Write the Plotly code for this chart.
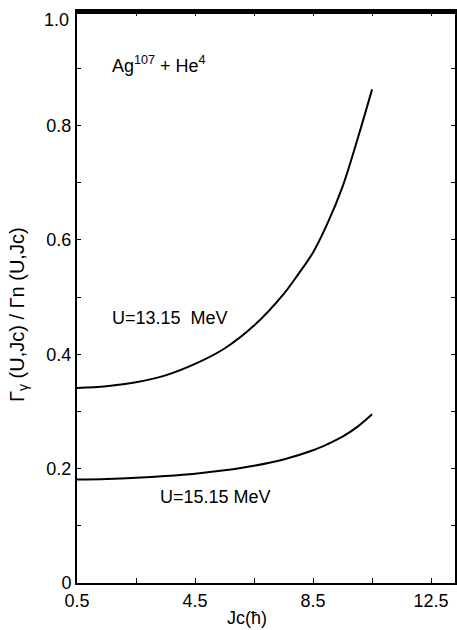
import plotly.graph_objects as go

jc = [0.5, 1.5, 2.5, 3.5, 4.5, 5.5, 6.5, 7.5, 8.0, 8.5, 9.0, 9.5, 10.0, 10.5]
ratio_13_15 = [0.341, 0.344, 0.351, 0.363, 0.383, 0.410, 0.450, 0.505, 0.540, 0.578, 0.630, 0.693, 0.775, 0.863]
jc_low = [0.5, 1.5, 2.5, 3.5, 4.5, 5.5, 6.5, 7.5, 8.5, 9.0, 9.5, 10.0, 10.5]
ratio_15_15 = [0.181, 0.182, 0.184, 0.187, 0.191, 0.197, 0.205, 0.216, 0.232, 0.243, 0.256, 0.273, 0.295]

x_ticks = [0.5, 4.5, 8.5, 12.5]
x_ticktext = ["0.5", "4.5", "8.5", "12.5"]
y_ticks = [0, 0.2, 0.4, 0.6, 0.8, 1.0]
y_ticktext = ["0", "0.2", "0.4", "0.6", "0.8", ""]
y_top_label = "1.0"

FONT = "Liberation Sans, Arial, sans-serif"
FS = 18

W, H = 457, 630
L, R, T, B = 77, 2, 11, 47
pw, ph = W - L - R, H - T - B

fig = go.Figure()
fig.add_trace(go.Scatter(x=jc, y=ratio_13_15, mode="lines", line=dict(color="black", width=2, shape="spline"), showlegend=False))
fig.add_trace(go.Scatter(x=jc_low, y=ratio_15_15, mode="lines", line=dict(color="black", width=2, shape="spline"), showlegend=False))

fig.update_layout(
    width=W, height=H,
    margin=dict(l=L, r=R, t=T, b=B, autoexpand=False),
    paper_bgcolor="white", plot_bgcolor="white",
    font=dict(family=FONT, size=FS, color="black"),
)
fig.update_xaxes(
    range=[0.5, 13.31], showgrid=False, zeroline=False, automargin=False,
    showline=True, linecolor="black", linewidth=2, mirror="ticks",
    tickvals=x_ticks, ticktext=x_ticktext, ticks="inside", ticklen=5, tickcolor="black",
    minor=dict(tick0=0.5, dtick=2, ticks="inside", ticklen=5, tickcolor="black"),
    tickfont=dict(size=FS), ticklabeloverflow="allow",
)
fig.update_yaxes(
    range=[0, 1.0], showgrid=False, zeroline=False, automargin=False,
    showline=True, linecolor="black", linewidth=2, mirror="ticks",
    tickvals=y_ticks, ticktext=y_ticktext, ticks="inside", ticklen=4, tickcolor="black",
    minor=dict(tick0=0, dtick=0.1, ticks="inside", ticklen=4, tickcolor="black"),
    tickfont=dict(size=FS), ticklabeloverflow="allow",
)

# explicit top frame line, drawn just inside the plot top
fig.add_shape(type="line", xref="paper", yref="paper", x0=0, x1=1,
              y0=1 - 1.5 / ph, y1=1 - 1.5 / ph,
              line=dict(color="black", width=3), layer="above")


def px_annot(text, px, py, xanchor="left", angle=0, size=FS):
    fig.add_annotation(text=text, x=(px - L) / pw, y=1 - (py - T) / ph,
                       xref="paper", yref="paper", showarrow=False,
                       xanchor=xanchor, yanchor="middle", textangle=angle,
                       font=dict(size=size))


px_annot(y_top_label, 71, 20, xanchor="right")
px_annot("Ag<sup>107</sup> + He<sup>4</sup>", 110, 65)
px_annot("U=13.15  MeV", 110, 318)
px_annot("U=15.15 MeV", 158, 497)
px_annot("Jc(ħ)", 247, 618, xanchor="center")
px_annot("Γ<sub>γ</sub> (U,Jc) / Γn (U,Jc)", 18, 315, xanchor="center", angle=-90, size=20)

fig.write_html("out.html", config={"displayModeBar": False},
               post_script="document.body.style.margin='0px';")
